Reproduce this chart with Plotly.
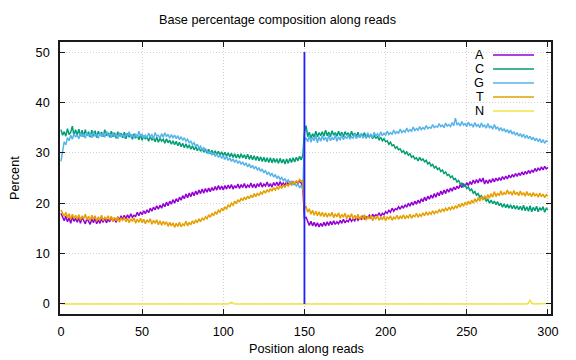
import plotly.graph_objects as go

# ---------------- data ----------------
positions = list(range(0, 301))

A = [
 18.0,17.2,16.5,17.4,16.3,17.1,16.0,17.3,16.4,17.0,
 16.2,17.1,16.0,17.2,16.4,15.9,17.0,16.3,15.8,16.9,
 16.1,17.0,15.9,16.7,16.0,16.9,16.2,17.1,16.1,16.8,
 16.3,17.2,16.4,16.9,16.2,17.3,16.6,17.5,16.8,17.6,
 16.9,17.7,17.0,17.9,17.2,17.6,17.4,18.2,17.5,18.3,
 17.7,18.5,17.9,18.7,18.1,19.0,18.4,19.2,18.7,19.5,
 18.8,19.6,19.0,19.9,19.3,20.2,19.5,20.4,19.8,20.7,
 20.0,20.9,20.3,21.2,20.6,21.5,20.9,21.8,21.1,22.0,
 21.3,22.2,21.5,22.4,21.7,22.6,21.9,22.8,22.0,22.9,
 22.2,23.0,22.3,23.1,22.5,23.3,22.6,23.5,22.7,23.4,
 22.6,23.5,22.8,23.6,22.9,23.7,22.8,23.5,23.0,23.8,
 22.9,23.7,23.1,23.9,23.0,23.6,23.2,24.0,23.1,23.8,
 23.0,23.9,23.3,24.1,23.2,23.8,23.4,24.2,23.3,23.9,
 23.2,24.1,23.5,24.2,23.4,24.3,23.6,24.0,23.5,24.3,
 23.6,24.2,23.7,24.4,23.8,24.3,23.9,24.5,24.0,23.2,
 17.0,
 17.2,16.3,15.6,16.4,15.5,16.2,15.4,16.1,15.3,16.0,
 15.4,16.2,15.5,16.3,15.6,16.4,15.7,16.5,15.8,16.3,
 15.9,16.6,16.0,16.8,16.1,16.6,16.3,17.0,16.4,16.9,
 16.5,17.2,16.6,17.1,16.8,17.4,16.9,17.3,17.1,17.6,
 17.0,17.8,17.3,17.7,17.5,18.1,17.4,18.0,17.7,18.3,
 18.0,18.6,18.2,19.0,18.4,18.9,18.7,19.3,18.8,19.5,
 19.0,19.7,19.2,20.0,19.4,20.2,19.6,20.4,19.8,20.6,
 20.0,20.9,20.3,21.2,20.5,21.4,20.8,21.6,21.0,21.9,
 21.2,22.1,21.5,22.4,21.7,22.6,21.9,22.8,22.2,23.0,
 22.4,23.2,22.7,23.4,22.9,23.7,23.1,23.9,23.3,24.1,
 23.5,24.3,23.7,24.6,23.9,24.7,24.0,24.9,24.2,25.0,
 23.8,24.6,23.9,24.7,24.1,24.9,24.2,25.0,24.4,25.1,
 24.5,25.3,24.7,25.4,24.8,25.6,25.0,25.7,25.2,25.9,
 25.3,26.0,25.5,26.2,25.6,26.3,25.8,26.5,25.9,26.6,
 26.1,26.9,26.3,27.0,26.5,27.2,26.6,27.3,26.8,27.1,
]

C = [
 34.6,33.5,34.2,33.3,34.8,33.6,34.1,35.3,33.4,34.6,
 33.5,34.7,33.3,34.5,33.2,34.6,33.4,34.2,33.1,34.5,
 33.3,34.4,33.0,34.3,33.5,34.1,33.2,34.6,33.4,34.0,
 33.1,34.3,33.2,34.0,32.9,34.2,33.3,33.9,33.0,34.1,
 32.8,33.9,33.1,33.7,32.7,33.8,32.9,33.5,32.6,33.6,
 32.5,33.4,32.7,33.2,32.3,33.3,32.5,33.0,32.2,33.1,
 32.1,32.9,32.3,32.7,31.9,32.8,32.0,32.5,31.7,32.4,
 31.6,32.3,31.4,32.1,31.2,31.9,31.0,31.8,30.9,31.6,
 30.7,31.4,30.6,31.2,30.4,31.1,30.3,30.9,30.1,30.8,
 29.9,30.7,29.8,30.5,29.7,30.4,29.6,30.3,29.5,30.2,
 29.4,30.1,29.3,30.0,29.2,29.9,29.1,29.8,29.0,29.7,
 28.9,29.8,29.0,29.6,28.8,29.7,28.7,29.5,28.6,29.4,
 28.5,29.3,28.4,29.2,28.3,29.1,28.2,29.0,28.1,29.0,
 28.0,28.9,28.1,28.8,27.9,28.9,28.0,28.7,27.8,28.8,
 27.9,28.9,28.1,29.0,28.2,29.1,28.4,29.3,28.6,29.5,
 34.0,
 35.4,33.2,34.1,32.9,33.8,33.1,34.3,33.2,34.0,33.4,
 34.2,33.3,34.5,33.4,34.1,33.2,34.4,33.5,34.0,33.3,
 34.3,33.4,34.1,33.2,34.2,33.5,34.0,33.1,34.3,33.4,
 33.9,33.2,34.1,33.0,33.8,33.3,34.0,32.9,33.6,33.1,
 33.7,32.8,33.4,32.9,33.2,32.6,33.1,32.4,32.8,32.2,
 32.4,31.7,32.1,31.4,31.6,30.9,31.2,30.6,30.8,30.1,
 30.4,29.8,30.2,29.5,29.8,29.1,29.4,28.8,29.0,28.4,
 29.1,28.5,28.8,28.2,28.5,27.8,28.1,27.4,27.7,27.0,
 27.3,26.7,27.0,26.3,26.6,25.9,26.2,25.5,25.7,25.1,
 25.4,24.7,24.9,24.2,24.5,23.8,24.0,23.3,23.6,22.9,
 23.2,22.5,22.8,22.0,22.3,21.6,21.9,21.2,21.5,20.8,
 21.1,20.4,20.8,20.0,20.6,19.9,20.4,19.7,20.3,19.5,
 20.0,19.2,19.9,19.1,19.8,19.0,19.7,18.9,19.6,18.8,
 19.5,18.7,19.4,18.6,19.6,18.5,19.3,18.4,19.5,18.3,
 19.2,18.5,19.4,18.3,19.1,18.6,19.3,18.2,19.0,18.7,
]

G = [
 28.3,30.5,32.2,31.6,33.0,32.4,33.5,32.7,33.8,33.1,
 33.6,32.8,34.0,33.2,33.7,32.9,34.1,33.3,33.8,33.0,
 34.2,33.4,33.7,32.9,34.0,33.2,33.9,33.1,34.3,33.5,
 33.8,33.0,34.1,33.3,33.6,32.8,34.0,33.2,33.7,32.9,
 33.9,33.3,34.2,33.1,33.6,32.9,33.8,33.0,34.3,33.4,
 33.7,32.9,33.5,33.0,33.9,33.2,33.6,32.8,34.0,33.3,
 33.5,32.9,33.8,33.1,34.0,33.2,33.7,32.9,33.6,33.0,
 33.5,32.8,33.4,32.6,33.2,32.5,33.0,32.3,32.7,32.0,
 32.3,31.6,32.0,31.2,31.7,30.9,31.3,30.6,31.0,30.3,
 30.5,29.8,30.3,29.6,30.0,29.3,29.8,29.1,29.6,28.9,
 29.4,28.7,29.3,28.5,29.0,28.3,28.8,28.1,28.6,27.9,
 28.4,27.7,28.2,27.5,28.0,27.2,27.8,27.0,27.5,26.8,
 27.3,26.6,27.0,26.3,26.8,26.0,26.5,25.7,26.2,25.5,
 25.9,25.2,25.7,24.9,25.4,24.7,25.1,24.4,24.9,24.2,
 24.6,23.9,24.4,23.6,24.1,23.4,23.8,23.1,23.5,22.6,
 32.5,
 33.0,32.2,33.4,32.1,33.1,32.4,33.5,32.0,33.2,32.3,
 33.4,32.5,33.1,32.2,33.6,32.4,33.0,32.6,33.5,32.3,
 33.2,32.5,33.7,32.6,33.3,32.8,33.6,32.7,33.2,32.9,
 33.8,32.8,33.5,33.0,33.9,32.9,33.4,33.1,34.0,33.2,
 33.6,33.0,34.1,33.3,33.8,33.2,34.2,33.4,33.9,33.5,
 34.3,33.6,34.0,33.7,34.5,33.8,34.2,33.9,34.7,34.0,
 34.4,34.1,34.9,34.2,34.6,34.3,35.1,34.4,34.8,34.5,
 35.2,34.6,35.0,34.7,35.4,34.8,35.1,34.9,35.6,35.0,
 35.3,35.1,35.8,35.2,35.5,35.0,35.9,35.3,35.6,35.2,
 36.0,35.4,36.9,35.6,35.9,35.3,36.2,35.5,35.8,35.2,
 36.1,35.4,35.7,35.1,36.0,35.3,35.6,35.0,35.9,35.2,
 35.5,34.9,35.8,35.0,35.3,34.7,35.6,34.8,35.1,34.5,
 35.0,34.3,34.8,34.1,34.6,33.9,34.5,33.7,34.2,33.5,
 34.0,33.3,33.8,33.1,33.7,32.9,33.5,32.8,33.3,32.6,
 33.1,32.4,32.9,32.2,32.8,32.0,32.6,31.9,32.4,32.2,
]

T = [
 18.7,18.0,17.3,18.2,17.1,17.9,16.8,17.8,16.9,17.6,
 16.8,17.7,16.6,17.5,16.9,17.8,16.7,17.4,16.5,17.6,
 16.8,17.5,16.4,17.3,16.7,17.6,16.5,17.2,16.8,17.5,
 16.6,17.4,16.3,17.2,16.5,17.3,16.2,17.1,16.6,17.2,
 16.3,17.0,16.1,16.9,16.4,17.1,16.0,16.8,16.2,17.0,
 16.1,16.8,15.9,16.7,16.2,16.9,15.8,16.6,16.0,16.7,
 15.7,16.5,15.6,16.4,15.8,16.3,15.4,16.2,15.5,16.1,
 15.2,16.0,15.4,16.2,15.3,15.9,15.6,16.4,15.5,16.2,
 15.7,16.5,15.9,16.7,16.1,16.9,16.3,17.1,16.6,17.3,
 16.9,17.7,17.2,18.0,17.5,18.3,17.8,18.6,18.2,19.0,
 18.5,19.3,18.8,19.7,19.2,20.0,19.6,20.4,19.9,20.7,
 20.2,21.0,20.5,21.2,20.7,21.4,20.9,21.6,21.1,21.9,
 21.3,22.0,21.5,22.2,21.8,22.5,22.0,22.7,22.2,22.9,
 22.4,23.1,22.6,23.2,22.8,23.4,23.0,23.6,23.2,23.8,
 23.4,24.0,23.6,24.3,23.8,24.5,24.0,24.7,24.3,24.6,
 19.0,
 19.3,18.2,18.9,17.8,18.6,17.6,18.4,17.5,18.3,17.4,
 18.2,17.3,18.1,17.2,18.0,17.4,18.2,17.1,17.9,17.3,
 18.1,17.0,17.8,17.2,18.0,16.9,17.7,17.1,17.9,16.8,
 17.6,16.9,17.8,16.7,17.5,16.8,17.7,16.6,17.4,16.9,
 17.6,16.5,17.3,16.8,17.5,16.6,17.2,16.7,17.4,16.5,
 17.3,16.8,17.5,16.6,17.2,16.9,17.6,16.8,17.4,17.0,
 17.7,16.9,17.5,17.1,17.8,17.0,17.6,17.3,18.0,17.2,
 17.8,17.4,18.1,17.5,18.3,17.6,18.2,17.8,18.5,17.9,
 18.4,18.1,18.7,18.2,18.9,18.4,19.0,18.5,19.2,18.7,
 19.3,18.8,19.5,19.0,19.8,19.2,20.0,19.4,20.2,19.6,
 20.4,19.8,20.6,20.0,20.9,20.2,21.1,20.4,21.3,20.6,
 21.5,20.8,21.7,21.0,21.9,21.2,22.3,21.3,22.0,21.5,
 22.4,21.6,22.1,21.7,22.6,21.8,22.3,21.6,22.5,21.7,
 22.2,21.5,22.4,21.6,22.1,21.4,22.3,21.5,22.0,21.3,
 22.1,21.4,21.9,21.2,22.0,21.3,21.8,21.1,21.7,21.4,
]

# N is zero except a few small bumps (sparse points, straight segments between)
N_pos = [0, 2, 103, 104, 105, 106, 107, 287, 288, 289, 290, 291, 297, 300]
N_val = [0.1, 0.0, 0.0, 0.2, 0.3, 0.2, 0.0, 0.0, 0.2, 0.8, 0.2, 0.0, 0.0, 0.1]

# boundary between read 1 and read 2
boundary_x = [150, 150]
boundary_y = [0, 50]

series_names = ["A", "C", "G", "T", "N"]
series_colors = ["#9400d3", "#009e73", "#56b4e9", "#e69f00", "#f0e442"]

x_ticks = [0, 50, 100, 150, 200, 250, 300]
y_ticks = [0, 10, 20, 30, 40, 50]

# ---------------- layout geometry ----------------
# the page body has an 8px margin, so the figure is drawn 8px smaller and
# all margins are given in page pixels minus that offset
OFF = 8
W, H = 576 - OFF, 360 - OFF
L_pg, R_pg, TOP_pg, B_pg = 60, 25, 42, 46   # wanted plot box, page pixels
L, TOP = L_pg - OFF, TOP_pg - OFF
pw, ph = 576 - L_pg - R_pg, 360 - TOP_pg - B_pg

def px_x(p):  # page pixel -> paper x
    return (p - L_pg) / pw

def px_y(p):  # page pixel -> paper y
    return 1 - (p - TOP_pg) / ph

FONT = "Liberation Sans, Arial, sans-serif"
FS = 12.7

fig = go.Figure()
ys = [A, C, G, T]
for name, col, yv in zip(series_names[:4], series_colors[:4], ys):
    fig.add_trace(go.Scatter(x=positions, y=yv, mode="lines", name=name,
                             line=dict(color=col, width=1.5), showlegend=False,
                             hoverinfo="skip"))
fig.add_trace(go.Scatter(x=N_pos, y=N_val, mode="lines", name="N",
                         line=dict(color=series_colors[4], width=1.5),
                         showlegend=False, hoverinfo="skip"))
fig.add_trace(go.Scatter(x=boundary_x, y=boundary_y, mode="lines",
                         line=dict(color="#1e1eff", width=1.8),
                         showlegend=False, hoverinfo="skip"))

axis_common = dict(
    showline=True, linecolor="#1a1a1a", linewidth=1.5, mirror="allticks",
    ticks="inside", ticklen=5, tickwidth=1, tickcolor="#1a1a1a",
    showgrid=True, gridcolor="#d0d0d0", gridwidth=1, griddash="1px,2px",
    zeroline=False, tickfont=dict(family=FONT, size=FS, color="#000"),
)

fig.update_xaxes(range=[-0.6, 301.9], tickvals=x_ticks, ticklabelstandoff=5,
                 **axis_common)
fig.update_yaxes(range=[-2.0, 52.0], tickvals=y_ticks, ticklabelstandoff=6,
                 **axis_common)

annotations = [
    dict(text="Base percentage composition along reads", x=px_x(277), y=px_y(20),
         xref="paper", yref="paper", xanchor="center", yanchor="middle",
         showarrow=False, font=dict(family=FONT, size=FS, color="#000")),
    dict(text="Position along reads", x=px_x(306), y=px_y(349),
         xref="paper", yref="paper", xanchor="center", yanchor="middle",
         showarrow=False, font=dict(family=FONT, size=FS, color="#000")),
    dict(text="Percent", x=px_x(15), y=px_y(178), textangle=-90,
         xref="paper", yref="paper", xanchor="center", yanchor="middle",
         showarrow=False, font=dict(family=FONT, size=FS, color="#000")),
]
shapes = []
legend_rows = [55, 69, 83, 97, 111]
for name, col, ry in zip(series_names, series_colors, legend_rows):
    annotations.append(dict(text=name, x=px_x(486), y=px_y(ry), xref="paper",
                            yref="paper", xanchor="right", yanchor="middle",
                            showarrow=False,
                            font=dict(family=FONT, size=FS, color="#000")))
    shapes.append(dict(type="line", xref="paper", yref="paper",
                       x0=px_x(493), x1=px_x(534), y0=px_y(ry), y1=px_y(ry),
                       line=dict(color=col, width=1.5)))

fig.update_layout(
    width=W, height=H, margin=dict(l=L, r=R_pg, t=TOP, b=B_pg, pad=0),
    paper_bgcolor="white", plot_bgcolor="white",
    annotations=annotations, shapes=shapes, showlegend=False,
)

fig.write_html("out.html", config={"displayModeBar": False})
